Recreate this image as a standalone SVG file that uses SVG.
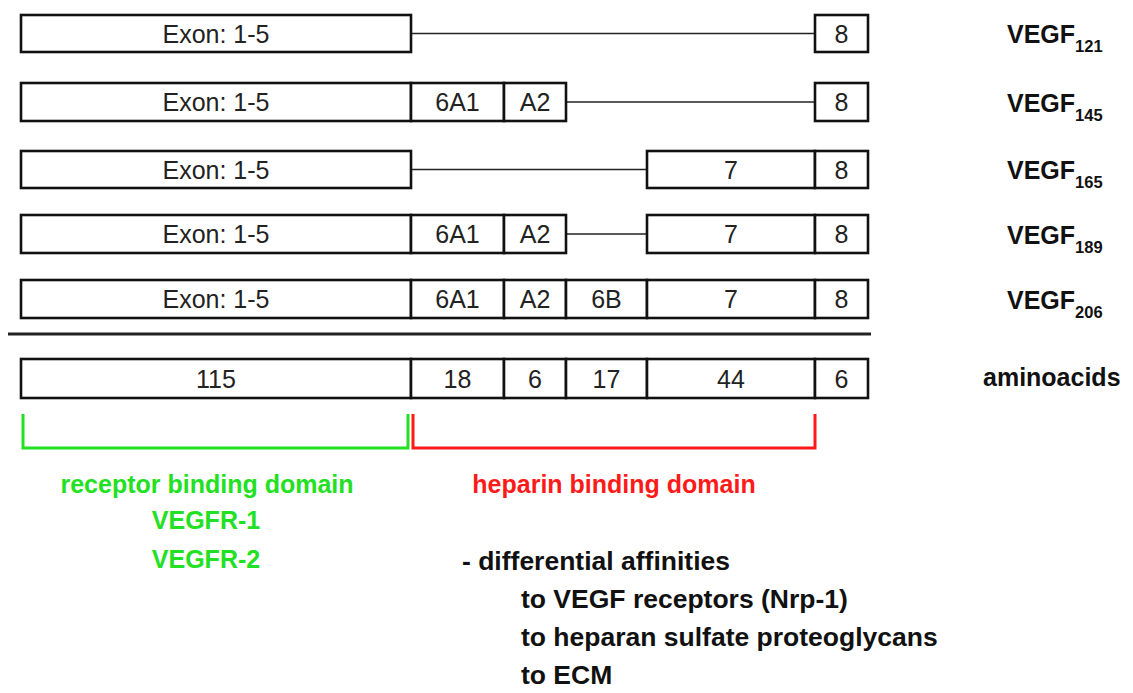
<svg xmlns="http://www.w3.org/2000/svg" width="1133" height="693" viewBox="0 0 1133 693">
<style>
.box{fill:#fff;stroke:#111;stroke-width:2.6}
.ln{stroke:#222;stroke-width:1.6;fill:none}
.t{font-family:"Liberation Sans",Arial,sans-serif;font-size:25px;fill:#222;text-anchor:middle}
.lab{font-family:"Liberation Sans",Arial,sans-serif;font-size:25px;font-weight:bold;fill:#111}
.sub{font-size:16.5px}
.g{font-family:"Liberation Sans",Arial,sans-serif;font-size:25px;font-weight:bold;fill:#22e022;text-anchor:middle}
.r{font-family:"Liberation Sans",Arial,sans-serif;font-size:25px;font-weight:bold;fill:#ff1a1a;text-anchor:middle}
.b{font-family:"Liberation Sans",Arial,sans-serif;font-size:26.5px;font-weight:bold;fill:#111}
</style>
<rect width="1133" height="693" fill="#fff"/>
<g id="connectors">
<line class="ln" x1="411" y1="33.5" x2="815" y2="33.5"/>
<line class="ln" x1="566" y1="102" x2="815" y2="102"/>
<line class="ln" x1="411" y1="169.5" x2="647" y2="169.5"/>
<line class="ln" x1="566" y1="234" x2="647" y2="234"/>
<line x1="8" y1="334" x2="871" y2="334" stroke="#222" stroke-width="3"/>
<path d="M23,414 V448 H408 V414" fill="none" stroke="#22e022" stroke-width="3"/>
<path d="M413,414 V448 H815 V414" fill="none" stroke="#ff1a1a" stroke-width="3"/>
</g>
<g id="vegf121">
<rect class="box" x="21" y="15" width="390" height="37"/>
<text class="t" x="216" y="42.5">Exon: 1-5</text>
<rect class="box" x="815" y="15" width="53" height="37"/>
<text class="t" x="841.5" y="42.5">8</text>
<text class="lab" x="1007" y="43">VEGF<tspan class="sub" dy="9">121</tspan></text>
</g>
<g id="vegf145">
<rect class="box" x="21" y="83" width="390" height="38"/>
<text class="t" x="216" y="111">Exon: 1-5</text>
<rect class="box" x="411" y="83" width="93" height="38"/>
<text class="t" x="457.5" y="111">6A1</text>
<rect class="box" x="504" y="83" width="62" height="38"/>
<text class="t" x="535" y="111">A2</text>
<rect class="box" x="815" y="83" width="53" height="38"/>
<text class="t" x="841.5" y="111">8</text>
<text class="lab" x="1007" y="111.5">VEGF<tspan class="sub" dy="9">145</tspan></text>
</g>
<g id="vegf165">
<rect class="box" x="21" y="151" width="390" height="37"/>
<text class="t" x="216" y="178.5">Exon: 1-5</text>
<rect class="box" x="647" y="151" width="168" height="37"/>
<text class="t" x="731" y="178.5">7</text>
<rect class="box" x="815" y="151" width="53" height="37"/>
<text class="t" x="841.5" y="178.5">8</text>
<text class="lab" x="1007" y="179">VEGF<tspan class="sub" dy="9">165</tspan></text>
</g>
<g id="vegf189">
<rect class="box" x="21" y="215" width="390" height="38"/>
<text class="t" x="216" y="243">Exon: 1-5</text>
<rect class="box" x="411" y="215" width="93" height="38"/>
<text class="t" x="457.5" y="243">6A1</text>
<rect class="box" x="504" y="215" width="62" height="38"/>
<text class="t" x="535" y="243">A2</text>
<rect class="box" x="647" y="215" width="168" height="38"/>
<text class="t" x="731" y="243">7</text>
<rect class="box" x="815" y="215" width="53" height="38"/>
<text class="t" x="841.5" y="243">8</text>
<text class="lab" x="1007" y="243.5">VEGF<tspan class="sub" dy="9">189</tspan></text>
</g>
<g id="vegf206">
<rect class="box" x="21" y="280" width="390" height="38"/>
<text class="t" x="216" y="308">Exon: 1-5</text>
<rect class="box" x="411" y="280" width="93" height="38"/>
<text class="t" x="457.5" y="308">6A1</text>
<rect class="box" x="504" y="280" width="62" height="38"/>
<text class="t" x="535" y="308">A2</text>
<rect class="box" x="566" y="280" width="81" height="38"/>
<text class="t" x="606.5" y="308">6B</text>
<rect class="box" x="647" y="280" width="168" height="38"/>
<text class="t" x="731" y="308">7</text>
<rect class="box" x="815" y="280" width="53" height="38"/>
<text class="t" x="841.5" y="308">8</text>
<text class="lab" x="1007" y="308.5">VEGF<tspan class="sub" dy="9">206</tspan></text>
</g>
<g id="aminoacids">
<rect class="box" x="21" y="359" width="390" height="39"/>
<text class="t" x="216" y="387.5">115</text>
<rect class="box" x="411" y="359" width="93" height="39"/>
<text class="t" x="457.5" y="387.5">18</text>
<rect class="box" x="504" y="359" width="62" height="39"/>
<text class="t" x="535" y="387.5">6</text>
<rect class="box" x="566" y="359" width="81" height="39"/>
<text class="t" x="606.5" y="387.5">17</text>
<rect class="box" x="647" y="359" width="168" height="39"/>
<text class="t" x="731" y="387.5">44</text>
<rect class="box" x="815" y="359" width="53" height="39"/>
<text class="t" x="841.5" y="387.5">6</text>
<text class="lab" x="983" y="386">aminoacids</text>
</g>
<g id="receptor-domain">
<text class="g" x="207" y="493">receptor binding domain</text>
<text class="g" x="206" y="529">VEGFR-1</text>
<text class="g" x="206" y="568">VEGFR-2</text>
</g>
<g id="heparin-domain">
<text class="r" x="614" y="493">heparin binding domain</text>
</g>
<g id="affinities">
<text class="b" x="462" y="570">- differential affinities</text>
<text class="b" x="521" y="608">to VEGF receptors (Nrp-1)</text>
<text class="b" x="521" y="646">to heparan sulfate proteoglycans</text>
<text class="b" x="521" y="684">to ECM</text>
</g>
</svg>
